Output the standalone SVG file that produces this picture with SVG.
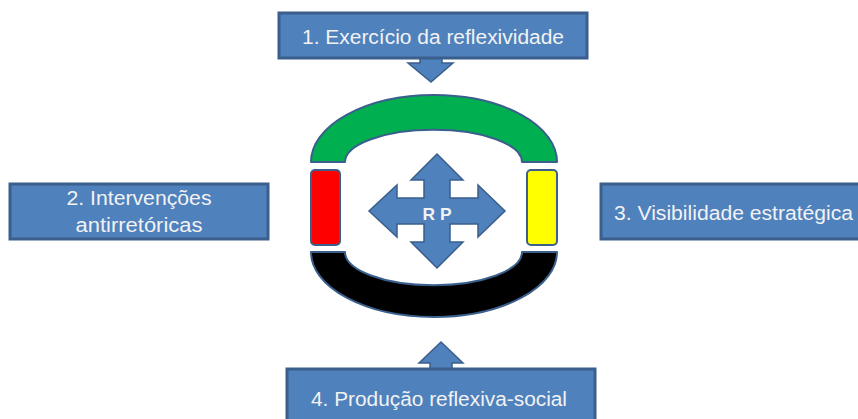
<svg xmlns="http://www.w3.org/2000/svg" width="858" height="419" viewBox="0 0 858 419">
<style>
.box{fill:#4F81BD;stroke:#3A5F8C;stroke-width:3}
.arr{fill:#4F81BD;stroke:#3A5F8C;stroke-width:1.5;stroke-linejoin:miter}
.seg{stroke:#3A5F8C;stroke-width:2;stroke-linejoin:round}
.lbl{font-family:"Liberation Sans",Arial,sans-serif;font-size:20px;fill:#F2F2F2}
</style>
<rect width="858" height="419" fill="#FFFFFF"/>
<g id="connectors">
<path class="arr" d="M420,50 L442,50 L442,63 L453,63 L431,82 L408,63 L420,63 Z"/>
<path class="arr" d="M430,375 L452,375 L452,363 L463,363 L441,342 L419,363 L430,363 Z"/>
</g>
<g id="node1">
<rect class="box" x="279" y="13" width="308" height="45"/>
<text class="lbl" x="433" y="44" text-anchor="middle" textLength="262" lengthAdjust="spacingAndGlyphs">1. Exercício da reflexividade</text>
</g>
<g id="node2">
<rect class="box" x="10" y="184" width="258" height="55"/>
<text class="lbl" x="139" y="205" text-anchor="middle" textLength="145" lengthAdjust="spacingAndGlyphs">2. Intervenções</text>
<text class="lbl" x="139" y="232" text-anchor="middle" textLength="127" lengthAdjust="spacingAndGlyphs">antirretóricas</text>
</g>
<g id="node3">
<rect class="box" x="601" y="184" width="280" height="55"/>
<text class="lbl" x="614" y="220" textLength="239" lengthAdjust="spacingAndGlyphs">3. Visibilidade estratégica</text>
</g>
<g id="node4">
<rect class="box" x="287" y="369" width="308" height="60"/>
<text class="lbl" x="311" y="406" textLength="256" lengthAdjust="spacingAndGlyphs">4. Produção reflexiva-social</text>
</g>
<g id="rp">
<path class="seg" fill="#00B050" d="M311,162 A123,67 0 0 1 557,162 L522,162 A88,32 0 0 0 345,162 Z"/>
<rect class="seg" fill="#FF0000" x="311" y="170" width="29" height="75" rx="4"/>
<rect class="seg" fill="#FFFF00" x="527" y="170" width="30" height="75" rx="4"/>
<path class="seg" fill="#000000" d="M311,252 A123,65 0 0 0 557,252 L522,252 A88,33 0 0 1 345,252 Z"/>
<path class="arr" d="M437,154 L463,180 L450,180 L450,198 L478,198 L478,185 L505,211 L478,237 L478,224 L450,224 L450,242 L463,242 L437,268 L411,242 L424,242 L424,224 L397,224 L397,237 L369,211 L397,185 L397,198 L424,198 L424,180 L411,180 Z"/>
<text x="437" y="220" text-anchor="middle" font-family="'Liberation Sans',Arial,sans-serif" font-size="17" font-weight="bold" fill="#F2F2F2" textLength="29" lengthAdjust="spacingAndGlyphs">R P</text>
</g>
</svg>
